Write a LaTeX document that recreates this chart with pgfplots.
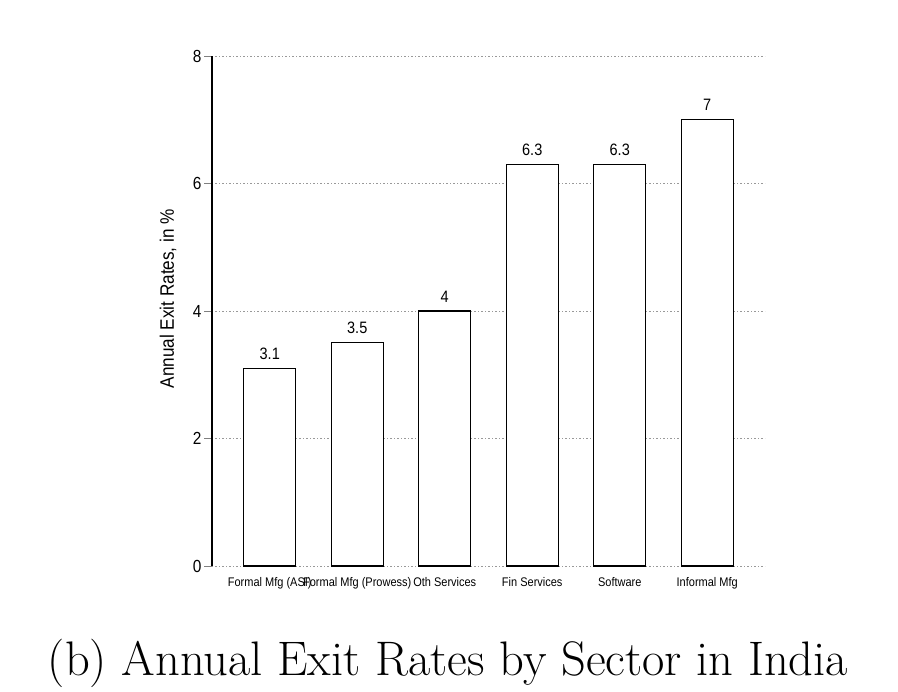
\documentclass[border=0pt]{standalone}
\usepackage{pgfplots}
\pgfplotsset{compat=1.18}
\usepackage{fontspec}
\setsansfont{Liberation Sans}
\newfontfamily\narrow[FakeStretch=0.88]{Liberation Sans}
\begin{document}
\begin{tikzpicture}[x=1pt,y=1pt]
\useasboundingbox (0,0) rectangle (898,692);
\begin{axis}[
  at={(212pt,126pt)}, anchor=south west,
  scale only axis,
  width=553pt, height=510pt,
  ybar, bar width=52pt,
  xmin=-0.66, xmax=5.66,
  ymin=0, ymax=8,
  ytick={0,2,4,6,8},
  xtick={0,1,2,3,4,5},
  xticklabels={Formal Mfg (ASI),Formal Mfg (Prowess),Oth Services,Fin Services,Software,Informal Mfg},
  axis lines=left,
  x axis line style={draw=none},
  y axis line style={line width=1.2pt,-},
  axis line style={-},
  tick align=outside,
  ytick style={gray, line width=0.7pt},
  major tick length=8pt,
  xtick style={draw=none},
  ymajorgrids,
  grid style={gray!80, dash pattern=on 1pt off 2pt on 2pt off 2pt, line width=0.6pt},
  yticklabel style={font=\narrow\fontsize{17.5}{20}\selectfont, xshift=1pt},
  /pgf/number format/assume math mode=true,
  xticklabel style={font=\narrow\fontsize{12.5}{14}\selectfont, yshift=0pt},
  ylabel={Annual Exit Rates, in \%},
  ylabel style={font=\narrow\fontsize{19.5}{22}\selectfont, at={(axis description cs:-0.0796,0.524)}, anchor=center, rotate=0},
  nodes near coords,
  every node near coord/.append style={font=\narrow\fontsize{16.5}{18}\selectfont, black, yshift=5pt},
  clip=false,
]
\addplot[draw=black, fill=white, line width=1.1pt] coordinates {
(0,3.1) (1,3.5) (2,4) (3,6.3) (4,6.3) (5,7)
};
\end{axis}
\node at (448,29) {\fontsize{48.5}{55}\selectfont (b) Annual Exit Rates by Sector in India};
\end{tikzpicture}
\end{document}
